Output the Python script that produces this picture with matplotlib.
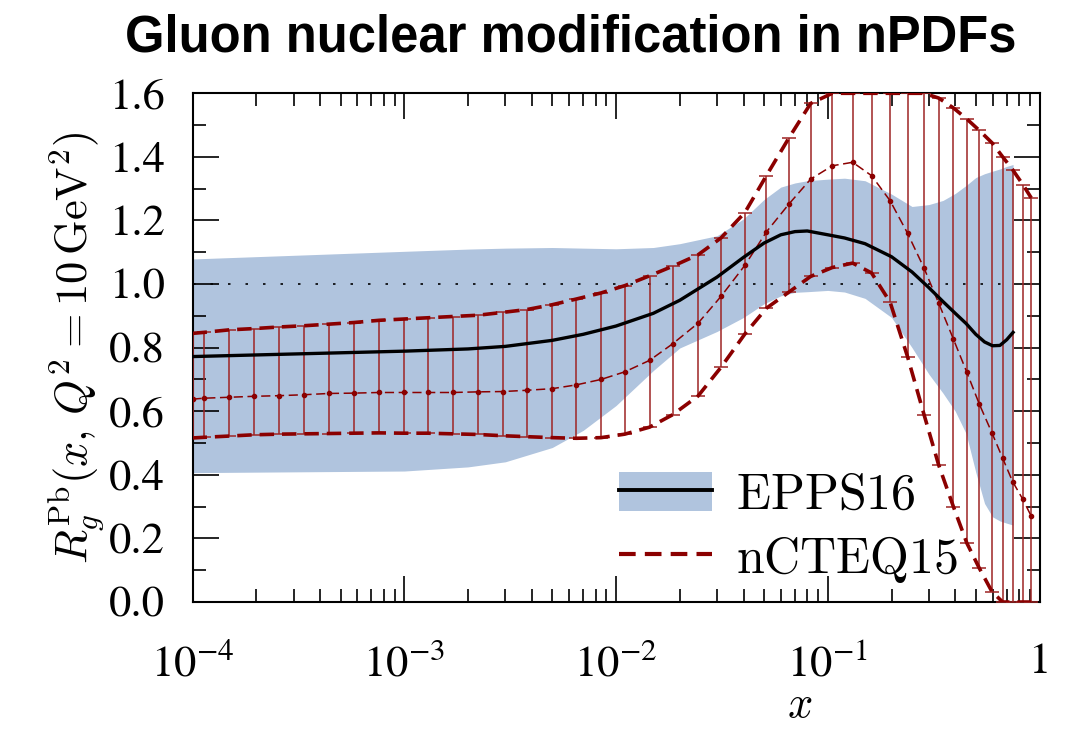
import numpy as np
import matplotlib.pyplot as plt
from matplotlib.patches import Patch
from matplotlib.lines import Line2D

plt.rcParams['mathtext.fontset'] = 'cm'

# EPPS16: central value and uncertainty band
x_epps = [1e-4, 1e-3, 2e-3, 3e-3, 5e-3, 7e-3, 1e-2, 1.5e-2, 2e-2, 3e-2, 4e-2, 5e-2,
          6e-2, 7e-2, 8e-2, 0.1, 0.12, 0.15, 0.2, 0.25, 0.3, 0.35, 0.4, 0.45,
          0.5, 0.55, 0.6, 0.65, 0.7, 0.75]
epps_central = [0.772, 0.789, 0.796, 0.804, 0.823, 0.842, 0.868, 0.908, 0.949, 1.022,
                1.084, 1.129, 1.155, 1.165, 1.167, 1.155, 1.145, 1.127, 1.086, 1.038,
                0.989, 0.945, 0.908, 0.876, 0.842, 0.818, 0.806, 0.807, 0.825, 0.848]
epps_upper = [1.079, 1.103, 1.110, 1.113, 1.115, 1.113, 1.111, 1.115, 1.127, 1.152,
              1.205, 1.266, 1.305, 1.318, 1.325, 1.330, 1.333, 1.325, 1.283, 1.244,
              1.250, 1.263, 1.285, 1.310, 1.335, 1.347, 1.355, 1.362, 1.370, 1.376]
epps_lower = [0.407, 0.412, 0.425, 0.441, 0.486, 0.540, 0.618, 0.728, 0.799, 0.851,
              0.895, 0.938, 0.963, 0.974, 0.976, 0.980, 0.975, 0.955, 0.895, 0.800,
              0.717, 0.657, 0.600, 0.530, 0.408, 0.310, 0.268, 0.255, 0.248, 0.242]

# nCTEQ15: central value with upper / lower error edges
x_ncteq = [1.0e-4, 1.13e-4, 1.49e-4, 1.95e-4, 2.56e-4, 3.37e-4, 4.42e-4, 5.77e-4,
           7.60e-4, 9.93e-4, 1.29e-3, 1.69e-3, 2.23e-3, 2.92e-3, 3.80e-3, 4.99e-3,
           6.50e-3, 8.49e-3, 1.10e-2, 1.44e-2, 1.85e-2, 2.44e-2, 3.13e-2, 4.06e-2,
           5.13e-2, 6.56e-2, 8.30e-2, 0.105, 0.131, 0.161, 0.197, 0.238, 0.285,
           0.334, 0.392, 0.454, 0.520, 0.597, 0.670, 0.746, 0.834, 0.914]
ncteq_central = [0.638, 0.641, 0.644, 0.647, 0.649, 0.652, 0.656, 0.657, 0.659, 0.659,
                 0.659, 0.659, 0.661, 0.662, 0.666, 0.671, 0.683, 0.700, 0.724, 0.760,
                 0.812, 0.877, 0.961, 1.059, 1.164, 1.252, 1.330, 1.372, 1.383, 1.341,
                 1.262, 1.160, 1.050, 0.940, 0.827, 0.722, 0.622, 0.531, 0.452, 0.379,
                 0.323, 0.270]
ncteq_upper = [0.845, 0.848, 0.856, 0.860, 0.865, 0.869, 0.874, 0.879, 0.886, 0.890,
               0.894, 0.898, 0.902, 0.911, 0.920, 0.935, 0.953, 0.972, 0.995, 1.026,
               1.056, 1.092, 1.145, 1.225, 1.341, 1.460, 1.568, 1.600, 1.600, 1.600,
               1.600, 1.600, 1.600, 1.585, 1.554, 1.519, 1.483, 1.444, 1.400, 1.360,
               1.313, 1.271]
ncteq_lower = [0.516, 0.518, 0.522, 0.526, 0.528, 0.529, 0.530, 0.531, 0.532, 0.531,
               0.531, 0.529, 0.527, 0.523, 0.520, 0.517, 0.515, 0.517, 0.528, 0.550,
               0.589, 0.648, 0.738, 0.843, 0.924, 0.975, 1.024, 1.052, 1.066, 1.035,
               0.943, 0.772, 0.589, 0.431, 0.300, 0.185, 0.106, 0.032, 0.0, 0.0,
               0.0, 0.0]

xtick_vals = [1e-4, 1e-3, 1e-2, 1e-1, 1]
xtick_labels = ['$10^{-4}$', '$10^{-3}$', '$10^{-2}$', '$10^{-1}$', '1']
ytick_vals = [0.0, 0.2, 0.4, 0.6, 0.8, 1.0, 1.2, 1.4, 1.6]

band_col = '#b0c4de'
red = '#8b0000'
bar_col = '#9e2424'

fig = plt.figure(figsize=(10.72, 7.30), dpi=100)
ax = fig.add_axes([0.1796, 0.1753, 0.7901, 0.6969])

ax.fill_between(x_epps, epps_lower, epps_upper, color=band_col, lw=0, zorder=1)
ax.plot([x_epps[0], x_epps[-1]], [1, 1], color='k', lw=1.2, dashes=(1.5, 9), zorder=2)
ax.plot(x_epps, epps_central, color='k', lw=2.4, zorder=5)

c = np.array(ncteq_central)
yerr = [c - np.array(ncteq_lower), np.array(ncteq_upper) - c]
ax.errorbar(x_ncteq, c, yerr=yerr, fmt='none', ecolor=bar_col, elinewidth=1.1,
            capsize=5, capthick=1.1, zorder=3)
ax.plot(x_ncteq, c, color=red, lw=1.1, ls=(0, (6, 3)), marker='o', ms=3, zorder=4)
ax.plot(x_ncteq, ncteq_upper, color=red, lw=2.6, ls=(0, (4, 2.2)), zorder=4)
ax.plot(x_ncteq, ncteq_lower, color=red, lw=2.6, ls=(0, (4, 2.2)), zorder=4)

ax.set_xscale('log')
ax.set_xlim(1e-4, 1)
ax.set_ylim(0, 1.6)
ax.set_xticks(xtick_vals)
ax.set_xticklabels(xtick_labels)
ax.set_yticks(ytick_vals)
ax.set_yticklabels(['%.1f' % v for v in ytick_vals])
ax.set_yticks(np.arange(0.1, 1.6, 0.2), minor=True)
ax.tick_params(which='both', direction='in', top=True, right=True, width=1.2)
ax.tick_params(which='major', length=18.5, labelsize=32)
ax.tick_params(axis='x', which='major', pad=30)
ax.tick_params(axis='y', which='major', pad=20)
ax.tick_params(which='minor', length=9.5)
for lab in ax.get_xticklabels() + ax.get_yticklabels():
    lab.set_family('STIXGeneral')
    lab.set_math_fontfamily('stix')
for sp in ax.spines.values():
    sp.set_linewidth(1.5)

ax.set_ylabel(r'$R_g^{\rm Pb}(x,\, Q^2 = 10\,{\rm GeV}^2)$', fontsize=32, labelpad=2)
ax.set_xlabel('$x$', fontsize=32)
ax.xaxis.set_label_coords(0.717, -0.16)

fig.text(0.532, 0.948, 'Gluon nuclear modification in nPDFs', ha='center', va='center',
         fontsize=36.5, fontweight='bold', family='Liberation Sans')

h1 = (Patch(facecolor=band_col, edgecolor='none'), Line2D([], [], color='k', lw=2.8))
h2 = Line2D([], [], color=red, lw=3, ls=(0, (4, 2.2)))
leg = ax.legend([h1, h2], [r'$\mathrm{EPPS16}$', r'$\mathrm{nCTEQ15}$'], loc='upper left',
                bbox_to_anchor=(0.503, 0.258), frameon=False, fontsize=36,
                handlelength=1.86, handleheight=0.84, handletextpad=0.48,
                labelspacing=0.3, borderpad=0, borderaxespad=0)

fig.savefig('out.png', dpi=100)
